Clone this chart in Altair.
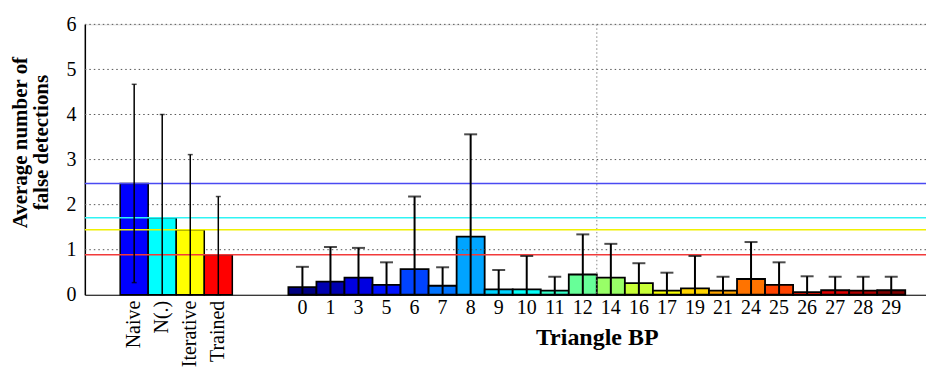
import altair as alt
import pandas as pd

# ---------------- data ----------------
methods = ["Naive", "N(.)", "Iterative", "Trained"]
method_mean = [2.47, 1.71, 1.44, 0.89]
method_err = [2.20, 2.29, 1.67, 1.29]

triangles = ["0", "1", "3", "5", "6", "7", "8", "9", "10", "11", "12",
             "14", "16", "17", "19", "21", "24", "25", "26", "27", "28", "29"]
tri_mean = [0.17, 0.29, 0.38, 0.22, 0.57, 0.20, 1.29, 0.12, 0.12, 0.09, 0.45,
            0.38, 0.26, 0.09, 0.14, 0.09, 0.35, 0.22, 0.06, 0.10, 0.09, 0.10]
tri_err = [0.45, 0.77, 0.66, 0.50, 1.61, 0.41, 2.27, 0.43, 0.74, 0.31, 0.89,
           0.75, 0.44, 0.40, 0.72, 0.31, 0.82, 0.50, 0.35, 0.30, 0.31, 0.30]

y_ticks = [0, 1, 2, 3, 4, 5, 6]

# ---------------- styles ----------------
method_colors = ["#0000ff", "#00ffff", "#ffff00", "#ff0000"]
line_colors = ["#4a4af2", "#30f4f4", "#f0f000", "#f23a3a"]
tri_colors = ["#000080", "#0000b0", "#0000e1", "#0012ff", "#0043ff", "#0073ff",
              "#00a4ff", "#00d4ff", "#06fff9", "#37ffc8", "#67ff98", "#98ff67",
              "#c8ff37", "#f9ff06", "#ffd400", "#ffa400", "#ff7300", "#ff4300",
              "#ff1200", "#e10000", "#b00000", "#800000"]
spacers = [" ", "  "]
domain = methods + spacers + triangles

W, H = 843, 271
NUM_FONT = "Liberation Serif"
TITLE_FONT = "Liberation Serif"

mdf = pd.DataFrame({"cat": methods, "mean": method_mean, "err": method_err,
                    "color": method_colors, "line": line_colors})
mdf["lo"] = (mdf["mean"] - mdf["err"]).clip(lower=0)
mdf["hi"] = mdf["mean"] + mdf["err"]

tdf = pd.DataFrame({"cat": triangles, "mean": tri_mean, "err": tri_err,
                    "color": tri_colors})
tdf["lo"] = (tdf["mean"] - tdf["err"]).clip(lower=0)
tdf["hi"] = tdf["mean"] + tdf["err"]

gdf = pd.DataFrame({"mean": y_ticks[1:]})
vdf = pd.DataFrame({"cat": ["14"]})

xscale = alt.Scale(domain=domain, paddingInner=0, paddingOuter=1, align=0.63)
yscale = alt.Scale(domain=[0, 6], nice=False, zero=True)

xaxis = alt.Axis(values=triangles, labelAngle=0, ticks=False, grid=False,
                 domainColor="black", domainWidth=1.2,
                 labelFont=NUM_FONT, labelFontSize=20, labelColor="black",
                 labelPadding=3,
                 title="Triangle BP", titleFont=TITLE_FONT, titleFontSize=24,
                 titleFontWeight="bold", titleColor="black",
                 titleX=513, titleY=43, titleAlign="center",
                 titleBaseline="middle")
yaxis = alt.Axis(values=y_ticks, ticks=False, grid=False,
                 domainColor="black", domainWidth=1.5,
                 labelFont=NUM_FONT, labelFontSize=20, labelColor="black",
                 labelPadding=9,
                 title=["Average number of", "false detections"],
                 titleFont=TITLE_FONT, titleFontSize=21, titleFontWeight="bold",
                 titleColor="black", titleX=-64, titleY=118,
                 titleAlign="center", titleBaseline="middle",
                 titleLineHeight=21, titleAngle=270)

X = alt.X("cat:N", scale=xscale, axis=xaxis)
Xn = alt.X("cat:N", scale=xscale)
Yq = lambda f: alt.Y(f, scale=yscale)

tri_bars = alt.Chart(tdf).mark_bar(stroke="black", strokeWidth=1.8).encode(
    x=X,
    y=alt.Y("mean:Q", scale=yscale, axis=yaxis),
    fill=alt.Fill("color:N", scale=None, legend=None),
)

grid = alt.Chart(gdf).mark_rule(color="#555555", strokeWidth=1,
                                strokeDash=[1.5, 3]).encode(y=Yq("mean:Q"))

vline = alt.Chart(vdf).mark_rule(color="#888888", strokeWidth=1,
                                 strokeDash=[1.5, 2.5]).encode(
    x=alt.X("cat:N", scale=xscale, bandPosition=0),
    y=alt.value(0), y2=alt.value(H))

method_bars = alt.Chart(mdf).mark_bar(stroke="black", strokeWidth=1.5).encode(
    x=Xn,
    y=Yq("mean:Q"),
    fill=alt.Fill("color:N", scale=None, legend=None),
)

hlines = alt.Chart(mdf).mark_rule(strokeWidth=1.5).encode(
    y=Yq("mean:Q"),
    color=alt.Color("line:N", scale=None, legend=None),
)

err_m = alt.Chart(mdf).mark_rule(color="black", strokeWidth=1.5).encode(
    x=Xn, y=Yq("lo:Q"), y2="hi:Q")
cap_m_hi = alt.Chart(mdf).mark_tick(color="black", thickness=1.5, size=5).encode(
    x=Xn, y=Yq("hi:Q"))
cap_m_lo = alt.Chart(mdf).mark_tick(color="black", thickness=1.5, size=5).encode(
    x=Xn, y=Yq("lo:Q"))

err_t = alt.Chart(tdf).mark_rule(color="black", strokeWidth=2).encode(
    x=Xn, y=Yq("lo:Q"), y2="hi:Q")
cap_t = alt.Chart(tdf).mark_tick(color="black", thickness=2, size=13).encode(
    x=Xn, y=Yq("hi:Q"))

mlabels = alt.Chart(mdf).mark_text(angle=270, align="right", baseline="middle",
                                   font=NUM_FONT, fontSize=20,
                                   color="black").encode(
    x=Xn, y=alt.value(H + 6), text="cat:N")

chart = alt.layer(
    tri_bars, grid, vline, method_bars, hlines,
    err_m, cap_m_hi, cap_m_lo, err_t, cap_t, mlabels
).properties(
    width=W, height=H,
    padding={"left": 77, "top": 16, "right": 0, "bottom": 76},
    autosize=alt.AutoSizeParams(type="none"),
).configure_view(strokeWidth=0).configure(background="white")

chart.save("out.html", embed_options={"renderer": "svg", "actions": False})
